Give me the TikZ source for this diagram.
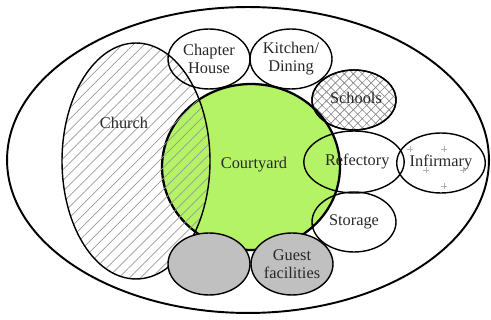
\documentclass[tikz,border=0pt]{standalone}
\usepackage{fontspec}
\setmainfont{Liberation Serif}
\usepackage{tikz}
\usetikzlibrary{shapes.geometric, patterns.meta}

\definecolor{patio}{RGB}{180,242,102}
\definecolor{cinza}{RGB}{192,192,192}
\definecolor{texto}{RGB}{40,40,40}

\begin{document}
\begin{tikzpicture}[x=0.02cm,y=-0.02cm,
    font=\fontsize{9.3}{10.2}\selectfont,
    area/.style={ellipse,draw,line width=0.8pt,inner sep=0,minimum width=1.64cm,minimum height=1.2cm,
      align=center,text=texto},
    rotulo/.style={align=center,text=texto,inner sep=0}]

  \useasboundingbox (0,0) rectangle (491,320);

  % recinto do mosteiro
  \node[ellipse,draw,line width=1.1pt,minimum width=9.64cm,minimum height=6.12cm,inner sep=0]
    (recinto) at (248,160) {};

  % escola: a trama some onde entra no pátio
  \node[area,minimum width=1.68cm,
    preaction={pattern={Lines[angle=45,distance=3.6pt,line width=0.35pt]},pattern color=gray},
    pattern={Lines[angle=-45,distance=3.6pt,line width=0.35pt]},pattern color=gray]
    (escola) at (354,100) {};

  \node[ellipse,draw,line width=1.3pt,fill=patio,inner sep=0,minimum width=3.56cm,minimum height=3.32cm]
    (patio) at (251,167) {};
  \node[rotulo] (patiolbl) at (254,165) {Courtyard};

  \node[ellipse,draw,line width=0.8pt,inner sep=0,minimum width=2.96cm,minimum height=4.72cm,
    pattern={Lines[angle=45,distance=4.4pt,line width=0.4pt]},pattern color=gray!80]
    (igreja) at (136,161) {};
  \node[rotulo] (igrejalbl) at (124,123) {Church};

  \draw[line width=0.8pt] (escola.center) ellipse [x radius=0.84cm, y radius=0.6cm];
  \node[rotulo] (escolalbl) at (356,98) {Schools};

  \node[area] (capitulo) at (209,59) {Chapter\\House};
  \node[area] (cozinha) at (291,59) {Kitchen/\\Dining};
  \node[area,minimum width=1.68cm,minimum height=1.24cm] (refeitorio) at (354,162) {\hspace*{0.4em}Refectory};
  \node[area,minimum width=1.68cm] (deposito) at (354,222) {Storage};
  \node[area] (enfermaria) at (441,163) {Infirmary};

  % cruzes da enfermaria
  \foreach \px/\py in {410/149,444/149,426/170,463/170,444/186}
    \draw[gray!60,line width=0.4pt] (\px-3,\py) -- (\px+3,\py) (\px,\py-3) -- (\px,\py+3);

  \node[area,fill=cinza,minimum height=1.24cm] (anexo) at (209,264) {};
  \node[area,fill=cinza,minimum height=1.24cm] (hospedes) at (292,264) {Guest\\facilities};
\end{tikzpicture}
\end{document}
